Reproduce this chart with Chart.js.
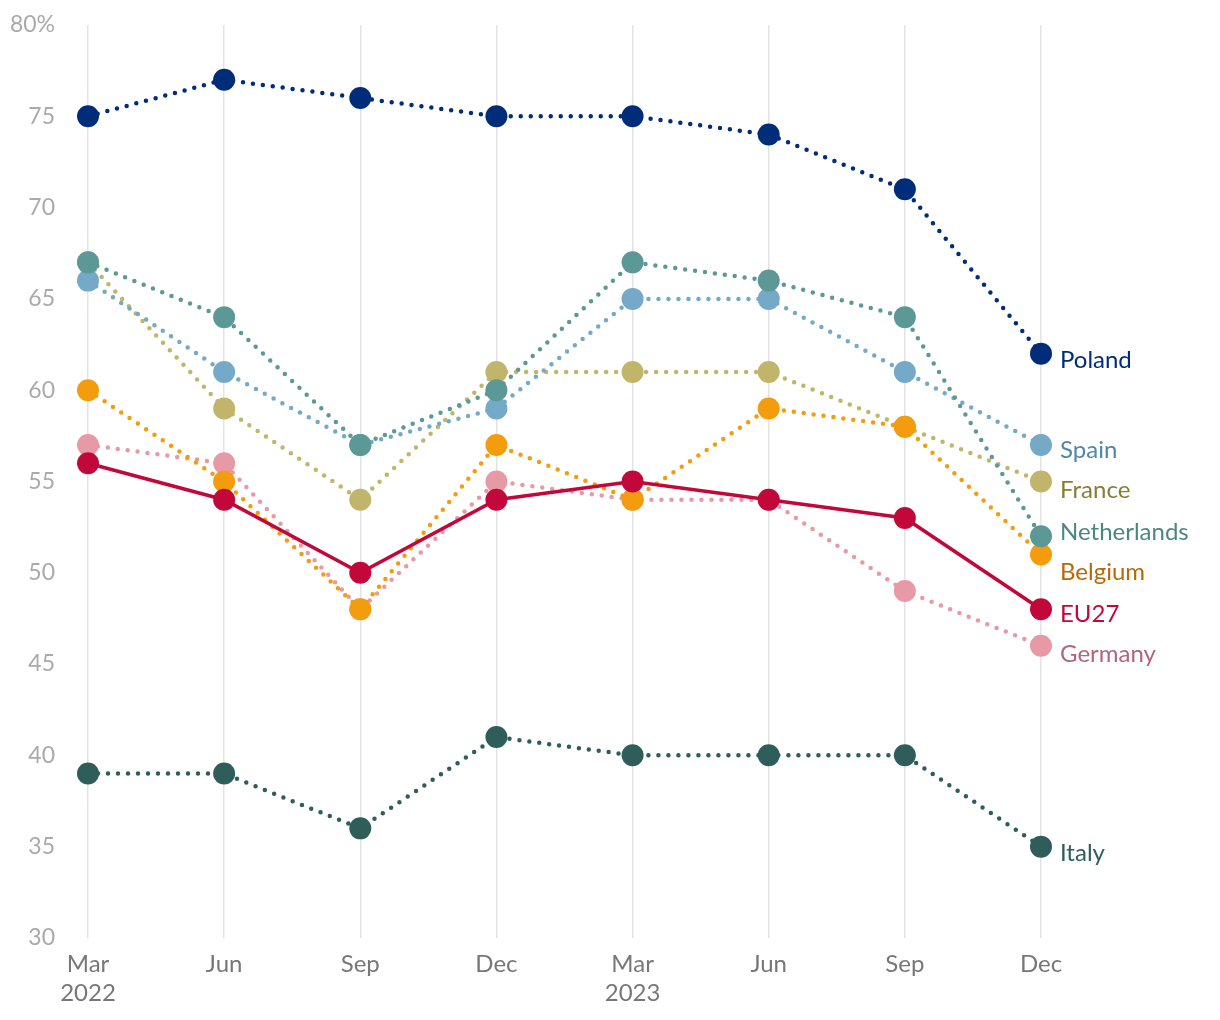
<!DOCTYPE html>
<html>
<head>
<meta charset="utf-8">
<script src="https://cdn.jsdelivr.net/npm/chart.js@4"></script>
<style>
  body { margin: 0; background: #fff; }
  #wrap { width: 1220px; height: 1020px; }
</style>
</head>
<body>
<div id="wrap"><canvas id="lineChart"></canvas></div>
<script>
/* data */
const quarters = [['Mar', '2022'], 'Jun', 'Sep', 'Dec', ['Mar', '2023'], 'Jun', 'Sep', 'Dec'];
const yTicks = [30, 35, 40, 45, 50, 55, 60, 65, 70, 75, 80];

const poland      = [75, 77, 76, 75, 75, 74, 71, 62];
const italy       = [39, 39, 36, 41, 40, 40, 40, 35];
const netherlands = [67, 64, 57, 60, 67, 66, 64, 52];
const spain       = [66, 61, 57, 59, 65, 65, 61, 57];
const eu27        = [56, 54, 50, 54, 55, 54, 53, 48];
const belgium     = [60, 55, 48, 57, 54, 59, 58, 51];
const france      = [67, 59, 54, 61, 61, 61, 58, 55];
const germany     = [57, 56, 48, 55, 54, 54, 49, 46];

/* series: first in list is drawn on top */
function series(label, data, color, textColor, solid) {
    return {
        label: label,
        data: data,
        borderColor: color,
        backgroundColor: color,
        pointBackgroundColor: color,
        pointBorderWidth: 0,
        pointRadius: 11,
        pointHoverRadius: 11,
        borderWidth: solid ? 3.5 : 4.5,
        borderDash: solid ? [] : [0, 10],
        borderCapStyle: 'round',
        tension: 0,
        textColor: textColor
    }
}

const datasets = [
    series('Poland', poland, '#002d7a', '#002d7a'),
    series('Italy', italy, '#2f5d5a', '#2f5d5a'),
    series('Netherlands', netherlands, '#5c9895', '#4a8783'),
    series('Spain', spain, '#74a9c8', '#4f86ab'),
    series('EU27', eu27, '#c2073a', '#c2073a', true),
    series('Belgium', belgium, '#f39c0e', '#b8680a'),
    series('France', france, '#c1b56c', '#877d37'),
    series('Germany', germany, '#e899a6', '#b0667b')
];

/* end labels, pushed apart so they do not overlap */
const endLabels = {
    id: 'endLabels',
    afterDatasetsDraw(chart) {
        const ctx = chart.ctx;
        const items = chart.data.datasets.map((ds, i) => {
            const pts = chart.getDatasetMeta(i).data;
            const p = pts[pts.length - 1];
            return { text: ds.label, color: ds.textColor, x: p.x, y: p.y + 7 };
        }).sort((a, b) => a.y - b.y);
        const gap = 40;
        for (let k = 0; k < 50; k++) {
            for (let i = 1; i < items.length; i++) {
                const d = items[i].y - items[i - 1].y;
                if (d < gap) {
                    const push = (gap - d) / 2;
                    items[i].y += push;
                    items[i - 1].y -= push;
                }
            }
        }
        ctx.save();
        ctx.font = '24px Lato';
        ctx.textBaseline = 'middle';
        ctx.textAlign = 'left';
        items.forEach(it => {
            ctx.fillStyle = it.color;
            ctx.fillText(it.text, it.x + 19, it.y);
        });
        ctx.restore();
    }
};

const lineChart = document.getElementById('lineChart').getContext('2d');
const myChart = new Chart(lineChart, {
    type: 'line',
    data: {
        labels: quarters,
        datasets: datasets
    },
    plugins: [endLabels],
    options: {
        responsive: true,
        maintainAspectRatio: false,
        animation: false,
        layout: {
            padding: { left: 0, right: 179, top: 25, bottom: 0 }
        },
        plugins: {
            legend: { display: false },
            tooltip: { enabled: false }
        },
        scales: {
            x: {
                offset: false,
                grid: {
                    display: true,
                    color: '#e3e3e3',
                    lineWidth: 1.5,
                    drawTicks: false
                },
                border: { display: false },
                ticks: {
                    color: '#777777',
                    padding: 12,
                    font: { family: 'Lato', size: 24, lineHeight: 1.21 },
                    maxRotation: 0,
                    autoSkip: false
                }
            },
            y: {
                min: yTicks[0],
                max: yTicks[yTicks.length - 1],
                afterBuildTicks: scale => {
                    scale.ticks = yTicks.map(v => ({ value: v }));
                },
                afterFit: scale => {
                    scale.width = 88;
                },
                grid: { display: false, tickLength: 33 },
                border: { display: false },
                ticks: {
                    color: '#aaaaaa',
                    padding: 0,
                    font: { family: 'Lato', size: 23 },
                    callback: v => v === 80 ? '80%' : v
                }
            }
        }
    }
})
</script>
</body>
</html>
